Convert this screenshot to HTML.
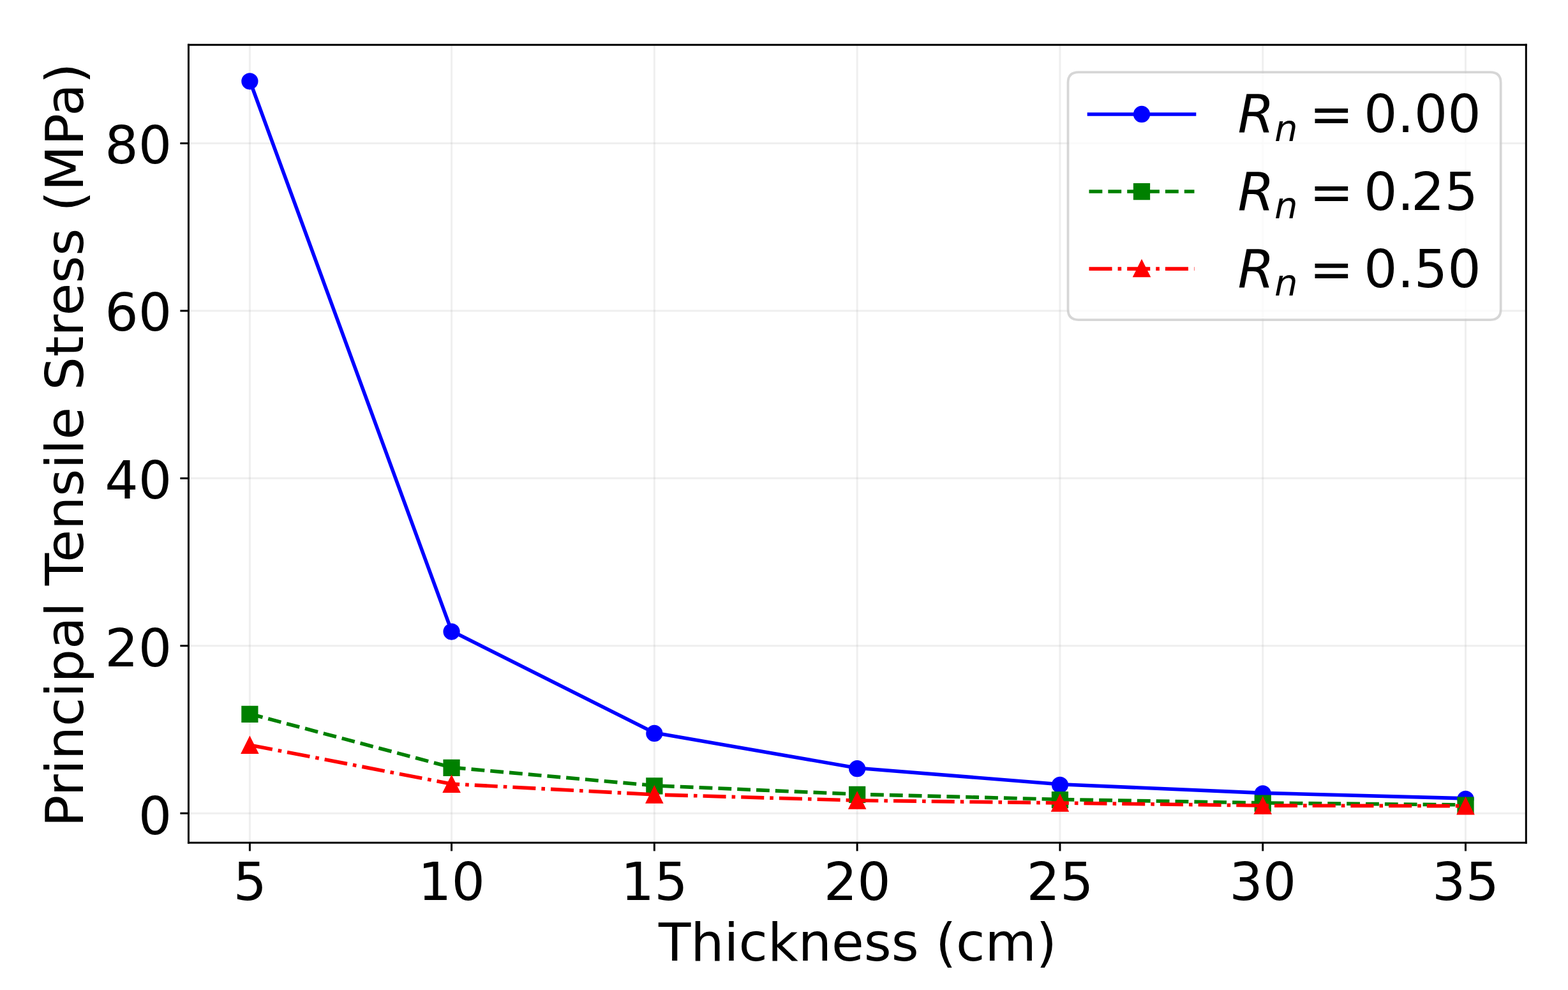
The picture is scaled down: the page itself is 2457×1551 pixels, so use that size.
<!DOCTYPE html>
<html><head><meta charset="utf-8"><title>Principal Tensile Stress vs Thickness</title>
<style>html,body{margin:0;padding:0;background:#fff;width:2457px;height:1551px;overflow:hidden}</style>
</head><body>
<svg width="2457" height="1551" viewBox="0 0 655.2 413.6" preserveAspectRatio="none" style="display:block">
<defs>
<style type="text/css">*{stroke-linejoin: round; stroke-linecap: butt}</style>
</defs>
<g id="figure_1">
<g id="patch_1">
<path d="M 0 413.6
L 655.2 413.6
L 655.2 0
L 0 0
z
" style="fill: #ffffff"/>
</g>
<g id="axes_1">
<g id="patch_2">
<path d="M 78.786667 352.053333
L 637.68 352.053333
L 637.68 18.746667
L 78.786667 18.746667
z
" style="fill: #ffffff"/>
</g>
<g id="matplotlib.axis_1">
<g id="xtick_1">
<g id="line2d_1">
<path d="M 104.372569 352.053333
L 104.372569 18.746667
" clip-path="url(#p9d22cb3446)" style="fill: none; stroke: #b0b0b0; stroke-opacity: 0.2; stroke-width: 0.8; stroke-linecap: square"/>
</g>
<g id="line2d_2">
<defs>
<path id="m5718f0365c" d="M 0 0
L 0 3.5
" style="stroke: #000000; stroke-width: 0.8"/>
</defs>
<g>
<use href="#m5718f0365c" x="104.372569" y="352.053333" style="stroke: #000000; stroke-width: 0.8"/>
</g>
</g>
<g id="text_1" transform="translate(0.0800 0.1867)">
<text style="font-size: 22px; font-family: 'DejaVu Sans', 'Liberation Sans', sans-serif; text-anchor: middle" x="104.372569" y="375.769896" transform="rotate(-0 104.372569 375.769896)">5</text>
</g>
</g>
<g id="xtick_2">
<g id="line2d_3">
<path d="M 188.684356 352.053333
L 188.684356 18.746667
" clip-path="url(#p9d22cb3446)" style="fill: none; stroke: #b0b0b0; stroke-opacity: 0.2; stroke-width: 0.8; stroke-linecap: square"/>
</g>
<g id="line2d_4">
<g>
<use href="#m5718f0365c" x="188.684356" y="352.053333" style="stroke: #000000; stroke-width: 0.8"/>
</g>
</g>
<g id="text_2" transform="translate(0.0000 0.1867)">
<text style="font-size: 22px; font-family: 'DejaVu Sans', 'Liberation Sans', sans-serif; text-anchor: middle" x="188.684356" y="375.769896" transform="rotate(-0 188.684356 375.769896)">10</text>
</g>
</g>
<g id="xtick_3">
<g id="line2d_5">
<path d="M 273.428337 352.053333
L 273.428337 18.746667
" clip-path="url(#p9d22cb3446)" style="fill: none; stroke: #b0b0b0; stroke-opacity: 0.2; stroke-width: 0.8; stroke-linecap: square"/>
</g>
<g id="line2d_6">
<g>
<use href="#m5718f0365c" x="273.428337" y="352.053333" style="stroke: #000000; stroke-width: 0.8"/>
</g>
</g>
<g id="text_3" transform="translate(0.0000 0.1867)">
<text style="font-size: 22px; font-family: 'DejaVu Sans', 'Liberation Sans', sans-serif; text-anchor: middle" x="273.428337" y="375.769896" transform="rotate(-0 273.428337 375.769896)">15</text>
</g>
</g>
<g id="xtick_4">
<g id="line2d_7">
<path d="M 358.172318 352.053333
L 358.172318 18.746667
" clip-path="url(#p9d22cb3446)" style="fill: none; stroke: #b0b0b0; stroke-opacity: 0.2; stroke-width: 0.8; stroke-linecap: square"/>
</g>
<g id="line2d_8">
<g>
<use href="#m5718f0365c" x="358.172318" y="352.053333" style="stroke: #000000; stroke-width: 0.8"/>
</g>
</g>
<g id="text_4" transform="translate(0.0000 0.1867)">
<text style="font-size: 22px; font-family: 'DejaVu Sans', 'Liberation Sans', sans-serif; text-anchor: middle" x="358.172318" y="375.769896" transform="rotate(-0 358.172318 375.769896)">20</text>
</g>
</g>
<g id="xtick_5">
<g id="line2d_9">
<path d="M 442.916299 352.053333
L 442.916299 18.746667
" clip-path="url(#p9d22cb3446)" style="fill: none; stroke: #b0b0b0; stroke-opacity: 0.2; stroke-width: 0.8; stroke-linecap: square"/>
</g>
<g id="line2d_10">
<g>
<use href="#m5718f0365c" x="442.916299" y="352.053333" style="stroke: #000000; stroke-width: 0.8"/>
</g>
</g>
<g id="text_5" transform="translate(0.0000 0.1867)">
<text style="font-size: 22px; font-family: 'DejaVu Sans', 'Liberation Sans', sans-serif; text-anchor: middle" x="442.916299" y="375.769896" transform="rotate(-0 442.916299 375.769896)">25</text>
</g>
</g>
<g id="xtick_6">
<g id="line2d_11">
<path d="M 527.660279 352.053333
L 527.660279 18.746667
" clip-path="url(#p9d22cb3446)" style="fill: none; stroke: #b0b0b0; stroke-opacity: 0.2; stroke-width: 0.8; stroke-linecap: square"/>
</g>
<g id="line2d_12">
<g>
<use href="#m5718f0365c" x="527.660279" y="352.053333" style="stroke: #000000; stroke-width: 0.8"/>
</g>
</g>
<g id="text_6" transform="translate(0.0000 0.1867)">
<text style="font-size: 22px; font-family: 'DejaVu Sans', 'Liberation Sans', sans-serif; text-anchor: middle" x="527.660279" y="375.769896" transform="rotate(-0 527.660279 375.769896)">30</text>
</g>
</g>
<g id="xtick_7">
<g id="line2d_13">
<path d="M 612.40426 352.053333
L 612.40426 18.746667
" clip-path="url(#p9d22cb3446)" style="fill: none; stroke: #b0b0b0; stroke-opacity: 0.2; stroke-width: 0.8; stroke-linecap: square"/>
</g>
<g id="line2d_14">
<g>
<use href="#m5718f0365c" x="612.40426" y="352.053333" style="stroke: #000000; stroke-width: 0.8"/>
</g>
</g>
<g id="text_7" transform="translate(0.0000 0.1867)">
<text style="font-size: 22px; font-family: 'DejaVu Sans', 'Liberation Sans', sans-serif; text-anchor: middle" x="612.40426" y="375.769896" transform="rotate(-0 612.40426 375.769896)">35</text>
</g>
</g>
<g id="text_8" transform="translate(0.1600 0.3200)">
<text style="font-size: 22px; font-family: 'DejaVu Sans', 'Liberation Sans', sans-serif; text-anchor: middle" x="358.233333" y="401.061771" transform="rotate(-0 358.233333 401.061771)">Thickness (cm)</text>
</g>
</g>
<g id="matplotlib.axis_2">
<g id="ytick_1">
<g id="line2d_15">
<path d="M 78.786667 339.77338
L 637.68 339.77338
" clip-path="url(#p9d22cb3446)" style="fill: none; stroke: #b0b0b0; stroke-opacity: 0.2; stroke-width: 0.8; stroke-linecap: square"/>
</g>
<g id="line2d_16">
<defs>
<path id="m9f0c5ce0a6" d="M 0 0
L -3.5 0
" style="stroke: #000000; stroke-width: 0.8"/>
</defs>
<g>
<use href="#m9f0c5ce0a6" x="78.786667" y="339.77338" style="stroke: #000000; stroke-width: 0.8"/>
</g>
</g>
<g id="text_9" transform="translate(0.0000 0.4267)">
<text style="font-size: 22px; font-family: 'DejaVu Sans', 'Liberation Sans', sans-serif; text-anchor: end" x="71.786667" y="348.131661" transform="rotate(-0 71.786667 348.131661)">0</text>
</g>
</g>
<g id="ytick_2">
<g id="line2d_17">
<path d="M 78.786667 269.800144
L 637.68 269.800144
" clip-path="url(#p9d22cb3446)" style="fill: none; stroke: #b0b0b0; stroke-opacity: 0.2; stroke-width: 0.8; stroke-linecap: square"/>
</g>
<g id="line2d_18">
<g>
<use href="#m9f0c5ce0a6" x="78.786667" y="269.800144" style="stroke: #000000; stroke-width: 0.8"/>
</g>
</g>
<g id="text_10" transform="translate(0.0000 0.3733)">
<text style="font-size: 22px; font-family: 'DejaVu Sans', 'Liberation Sans', sans-serif; text-anchor: end" x="71.786667" y="278.158425" transform="rotate(-0 71.786667 278.158425)">20</text>
</g>
</g>
<g id="ytick_3">
<g id="line2d_19">
<path d="M 78.786667 199.826907
L 637.68 199.826907
" clip-path="url(#p9d22cb3446)" style="fill: none; stroke: #b0b0b0; stroke-opacity: 0.2; stroke-width: 0.8; stroke-linecap: square"/>
</g>
<g id="line2d_20">
<g>
<use href="#m9f0c5ce0a6" x="78.786667" y="199.826907" style="stroke: #000000; stroke-width: 0.8"/>
</g>
</g>
<g id="text_11">
<text style="font-size: 22px; font-family: 'DejaVu Sans', 'Liberation Sans', sans-serif; text-anchor: end" x="71.786667" y="208.185188" transform="rotate(-0 71.786667 208.185188)">40</text>
</g>
</g>
<g id="ytick_4">
<g id="line2d_21">
<path d="M 78.786667 129.85367
L 637.68 129.85367
" clip-path="url(#p9d22cb3446)" style="fill: none; stroke: #b0b0b0; stroke-opacity: 0.2; stroke-width: 0.8; stroke-linecap: square"/>
</g>
<g id="line2d_22">
<g>
<use href="#m9f0c5ce0a6" x="78.786667" y="129.85367" style="stroke: #000000; stroke-width: 0.8"/>
</g>
</g>
<g id="text_12">
<text style="font-size: 22px; font-family: 'DejaVu Sans', 'Liberation Sans', sans-serif; text-anchor: end" x="71.786667" y="138.211952" transform="rotate(-0 71.786667 138.211952)">60</text>
</g>
</g>
<g id="ytick_5">
<g id="line2d_23">
<path d="M 78.786667 59.880434
L 637.68 59.880434
" clip-path="url(#p9d22cb3446)" style="fill: none; stroke: #b0b0b0; stroke-opacity: 0.2; stroke-width: 0.8; stroke-linecap: square"/>
</g>
<g id="line2d_24">
<g>
<use href="#m9f0c5ce0a6" x="78.786667" y="59.880434" style="stroke: #000000; stroke-width: 0.8"/>
</g>
</g>
<g id="text_13">
<text style="font-size: 22px; font-family: 'DejaVu Sans', 'Liberation Sans', sans-serif; text-anchor: end" x="71.786667" y="68.238715" transform="rotate(-0 71.786667 68.238715)">80</text>
</g>
</g>
<g id="text_14" transform="translate(-0.5067 0.5333)">
<text style="font-size: 22.0364px; font-family: 'DejaVu Sans', 'Liberation Sans', sans-serif; text-anchor: middle" x="35.216354" y="185.4" transform="rotate(-90 35.216354 185.4)">Principal Tensile Stress (MPa)</text>
</g>
</g>
<g id="line2d_25">
<path transform="translate(0 -0.2667)" d="M 104.372569 33.95535
L 188.684356 263.887405
L 273.428337 306.396146
L 358.172318 321.125513
L 442.916299 327.947903
L 527.660279 331.551525
L 612.40426 333.825655
" clip-path="url(#p9d22cb3446)" style="fill: none; stroke: #0000ff; stroke-width: 1.5; stroke-linecap: square"/>
<defs>
<path id="m63a693521b" d="M 0 3
C 0.795609 3 1.55874 2.683901 2.12132 2.12132
C 2.683901 1.55874 3 0.795609 3 0
C 3 -0.795609 2.683901 -1.55874 2.12132 -2.12132
C 1.55874 -2.683901 0.795609 -3 0 -3
C -0.795609 -3 -1.55874 -2.683901 -2.12132 -2.12132
C -2.683901 -1.55874 -3 -0.795609 -3 0
C -3 0.795609 -2.683901 1.55874 -2.12132 2.12132
C -1.55874 2.683901 -0.795609 3 0 3
z
" style="stroke: #0000ff"/>
</defs>
<g clip-path="url(#p9d22cb3446)">
<use href="#m63a693521b" x="104.372569" y="33.95535" style="fill: #0000ff; stroke: #0000ff"/>
<use href="#m63a693521b" x="188.684356" y="263.887405" style="fill: #0000ff; stroke: #0000ff"/>
<use href="#m63a693521b" x="273.428337" y="306.396146" style="fill: #0000ff; stroke: #0000ff"/>
<use href="#m63a693521b" x="358.172318" y="321.125513" style="fill: #0000ff; stroke: #0000ff"/>
<use href="#m63a693521b" x="442.916299" y="327.947903" style="fill: #0000ff; stroke: #0000ff"/>
<use href="#m63a693521b" x="527.660279" y="331.551525" style="fill: #0000ff; stroke: #0000ff"/>
<use href="#m63a693521b" x="612.40426" y="333.825655" style="fill: #0000ff; stroke: #0000ff"/>
</g>
</g>
<g id="line2d_26">
<path transform="translate(0 -0.1600)" d="M 104.372569 298.384211
L 188.684356 320.775646
L 273.428337 328.367743
L 358.172318 331.971364
L 442.916299 334.140535
L 527.660279 335.609973
L 612.40426 336.414665
" clip-path="url(#p9d22cb3446)" style="fill: none; stroke-dasharray: 5.5575,2.4032; stroke-dashoffset: 0; stroke: #008000; stroke-width: 1.5"/>
<defs>
<path id="m65ac861c18" d="M -3 3
L 3 3
L 3 -3
L -3 -3
z
" style="stroke: #008000; stroke-linejoin: miter"/>
</defs>
<g clip-path="url(#p9d22cb3446)">
<use href="#m65ac861c18" x="104.372569" y="298.384211" style="fill: #008000; stroke: #008000; stroke-linejoin: miter"/>
<use href="#m65ac861c18" x="188.684356" y="320.775646" style="fill: #008000; stroke: #008000; stroke-linejoin: miter"/>
<use href="#m65ac861c18" x="273.428337" y="328.367743" style="fill: #008000; stroke: #008000; stroke-linejoin: miter"/>
<use href="#m65ac861c18" x="358.172318" y="331.971364" style="fill: #008000; stroke: #008000; stroke-linejoin: miter"/>
<use href="#m65ac861c18" x="442.916299" y="334.140535" style="fill: #008000; stroke: #008000; stroke-linejoin: miter"/>
<use href="#m65ac861c18" x="527.660279" y="335.609973" style="fill: #008000; stroke: #008000; stroke-linejoin: miter"/>
<use href="#m65ac861c18" x="612.40426" y="336.414665" style="fill: #008000; stroke: #008000; stroke-linejoin: miter"/>
</g>
</g>
<g id="line2d_27">
<path transform="translate(0 -0.1867)" d="M 104.372569 311.434219
L 188.684356 327.702997
L 273.428337 332.146297
L 358.172318 334.595361
L 442.916299 335.644959
L 527.660279 336.729544
L 612.40426 336.904477
" clip-path="url(#p9d22cb3446)" style="fill: none; stroke-dasharray: 9.6130,2.4032,1.5020,2.4032; stroke-dashoffset: 0; stroke: #ff0000; stroke-width: 1.5"/>
<defs>
<path id="mdd6620f621" d="M 0 -3
L -3 3
L 3 3
z
" style="stroke: #ff0000; stroke-linejoin: miter"/>
</defs>
<g clip-path="url(#p9d22cb3446)">
<use href="#mdd6620f621" x="104.372569" y="311.434219" style="fill: #ff0000; stroke: #ff0000; stroke-linejoin: miter"/>
<use href="#mdd6620f621" x="188.684356" y="327.702997" style="fill: #ff0000; stroke: #ff0000; stroke-linejoin: miter"/>
<use href="#mdd6620f621" x="273.428337" y="332.146297" style="fill: #ff0000; stroke: #ff0000; stroke-linejoin: miter"/>
<use href="#mdd6620f621" x="358.172318" y="334.595361" style="fill: #ff0000; stroke: #ff0000; stroke-linejoin: miter"/>
<use href="#mdd6620f621" x="442.916299" y="335.644959" style="fill: #ff0000; stroke: #ff0000; stroke-linejoin: miter"/>
<use href="#mdd6620f621" x="527.660279" y="336.729544" style="fill: #ff0000; stroke: #ff0000; stroke-linejoin: miter"/>
<use href="#mdd6620f621" x="612.40426" y="336.904477" style="fill: #ff0000; stroke: #ff0000; stroke-linejoin: miter"/>
</g>
</g>
<g id="patch_3">
<path d="M 78.786667 352.053333
L 78.786667 18.746667
" style="fill: none; stroke: #000000; stroke-width: 0.8; stroke-linejoin: miter; stroke-linecap: square"/>
</g>
<g id="patch_4">
<path d="M 637.68 352.053333
L 637.68 18.746667
" style="fill: none; stroke: #000000; stroke-width: 0.8; stroke-linejoin: miter; stroke-linecap: square"/>
</g>
<g id="patch_5">
<path d="M 78.786667 352.053333
L 637.68 352.053333
" style="fill: none; stroke: #000000; stroke-width: 0.8; stroke-linejoin: miter; stroke-linecap: square"/>
</g>
<g id="patch_6">
<path d="M 78.786667 18.746667
L 637.68 18.746667
" style="fill: none; stroke: #000000; stroke-width: 0.8; stroke-linejoin: miter; stroke-linecap: square"/>
</g>
<g id="legend_1" transform="translate(0.4267 0.1600)">
<g id="patch_7" transform="translate(0.0000 0.2400)">
<path d="M 450.24 133.222292
L 622.28 133.222292
Q 626.68 133.222292 626.68 128.822292
L 626.68 34.146667
Q 626.68 29.746667 622.28 29.746667
L 450.24 29.746667
Q 445.84 29.746667 445.84 34.146667
L 445.84 128.822292
Q 445.84 133.222292 450.24 133.222292
z
" style="fill: #ffffff; opacity: 0.8; stroke: #cccccc; stroke-linejoin: miter"/>
</g>
<g id="line2d_28">
<path d="M 454.64 47.563229
L 476.64 47.563229
L 498.64 47.563229
" style="fill: none; stroke: #0000ff; stroke-width: 1.5; stroke-linecap: square"/>
<g>
<use href="#m63a693521b" x="476.64" y="47.563229" style="fill: #0000ff; stroke: #0000ff"/>
</g>
</g>
<g id="text_15" transform="translate(0.5600 0.5600)">
<!-- $R_n = 0.00$ -->
<g transform="translate(516.24 55.263229)">
<text>
<tspan x="0" y="-0.671875" style="font-style: oblique; font-size: 22px; font-family: 'DejaVu Sans', 'Liberation Sans', sans-serif">R</tspan>
<tspan x="15.286133" y="2.9375" style="font-style: oblique; font-size: 15.4px; font-family: 'DejaVu Sans', 'Liberation Sans', sans-serif">n</tspan>
<tspan x="29.93418" y="-0.671875" style="font-size: 22px; font-family: 'DejaVu Sans', 'Liberation Sans', sans-serif">=</tspan>
<tspan x="52.653906" y="-0.671875" style="font-size: 22px; font-family: 'DejaVu Sans', 'Liberation Sans', sans-serif">0</tspan>
<tspan x="66.650977" y="-0.671875" style="font-size: 22px; font-family: 'DejaVu Sans', 'Liberation Sans', sans-serif">.</tspan>
<tspan x="73.644141" y="-0.671875" style="font-size: 22px; font-family: 'DejaVu Sans', 'Liberation Sans', sans-serif">0</tspan>
<tspan x="87.641211" y="-0.671875" style="font-size: 22px; font-family: 'DejaVu Sans', 'Liberation Sans', sans-serif">0</tspan>
</text>
</g>
</g>
<g id="line2d_29">
<path d="M 454.64 79.855104
L 476.64 79.855104
L 498.64 79.855104
" style="fill: none; stroke-dasharray: 5.5575,2.4032; stroke-dashoffset: 0; stroke: #008000; stroke-width: 1.5"/>
<g>
<use href="#m65ac861c18" x="476.64" y="79.855104" style="fill: #008000; stroke: #008000; stroke-linejoin: miter"/>
</g>
</g>
<g id="text_16" transform="translate(0.5600 0.5600)">
<!-- $R_n = 0.25$ -->
<g transform="translate(516.24 87.555104)">
<text>
<tspan x="0" y="-0.671875" style="font-style: oblique; font-size: 22px; font-family: 'DejaVu Sans', 'Liberation Sans', sans-serif">R</tspan>
<tspan x="15.286133" y="2.9375" style="font-style: oblique; font-size: 15.4px; font-family: 'DejaVu Sans', 'Liberation Sans', sans-serif">n</tspan>
<tspan x="29.93418" y="-0.671875" style="font-size: 22px; font-family: 'DejaVu Sans', 'Liberation Sans', sans-serif">=</tspan>
<tspan x="52.653906" y="-0.671875" style="font-size: 22px; font-family: 'DejaVu Sans', 'Liberation Sans', sans-serif">0</tspan>
<tspan x="66.650977" y="-0.671875" style="font-size: 22px; font-family: 'DejaVu Sans', 'Liberation Sans', sans-serif">.</tspan>
<tspan x="72.394141" y="-0.671875" style="font-size: 22px; font-family: 'DejaVu Sans', 'Liberation Sans', sans-serif">2</tspan>
<tspan x="86.391211" y="-0.671875" style="font-size: 22px; font-family: 'DejaVu Sans', 'Liberation Sans', sans-serif">5</tspan>
</text>
</g>
</g>
<g id="line2d_30">
<path d="M 454.64 112.146979
L 476.64 112.146979
L 498.64 112.146979
" style="fill: none; stroke-dasharray: 9.6130,2.4032,1.5020,2.4032; stroke-dashoffset: 0; stroke: #ff0000; stroke-width: 1.5"/>
<g>
<use href="#mdd6620f621" x="476.64" y="112.146979" style="fill: #ff0000; stroke: #ff0000; stroke-linejoin: miter"/>
</g>
</g>
<g id="text_17" transform="translate(0.5600 0.5600)">
<!-- $R_n = 0.50$ -->
<g transform="translate(516.24 119.846979)">
<text>
<tspan x="0" y="-0.671875" style="font-style: oblique; font-size: 22px; font-family: 'DejaVu Sans', 'Liberation Sans', sans-serif">R</tspan>
<tspan x="15.286133" y="2.9375" style="font-style: oblique; font-size: 15.4px; font-family: 'DejaVu Sans', 'Liberation Sans', sans-serif">n</tspan>
<tspan x="29.93418" y="-0.671875" style="font-size: 22px; font-family: 'DejaVu Sans', 'Liberation Sans', sans-serif">=</tspan>
<tspan x="52.653906" y="-0.671875" style="font-size: 22px; font-family: 'DejaVu Sans', 'Liberation Sans', sans-serif">0</tspan>
<tspan x="66.650977" y="-0.671875" style="font-size: 22px; font-family: 'DejaVu Sans', 'Liberation Sans', sans-serif">.</tspan>
<tspan x="73.644141" y="-0.671875" style="font-size: 22px; font-family: 'DejaVu Sans', 'Liberation Sans', sans-serif">5</tspan>
<tspan x="87.641211" y="-0.671875" style="font-size: 22px; font-family: 'DejaVu Sans', 'Liberation Sans', sans-serif">0</tspan>
</text>
</g>
</g>
</g>
</g>
</g>
<defs>
<clipPath id="p9d22cb3446">
<rect x="78.786667" y="18.746667" width="558.893333" height="333.306667"/>
</clipPath>
</defs>
</svg>

</body></html>
